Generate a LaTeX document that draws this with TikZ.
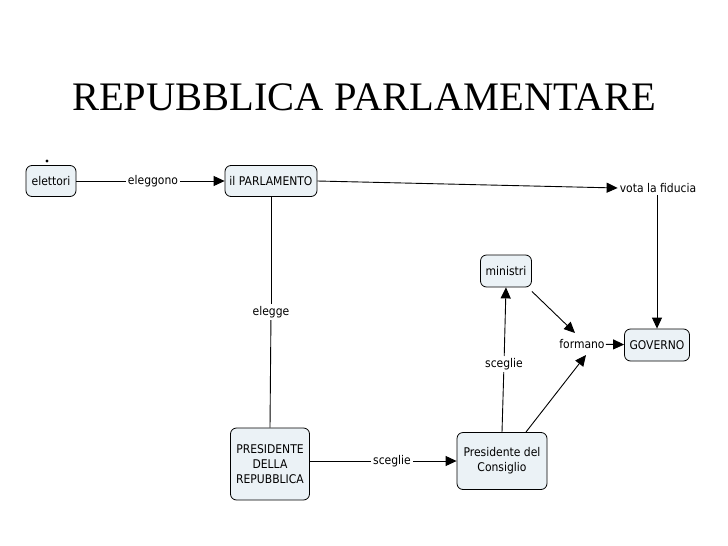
\documentclass[tikz,border=0pt]{standalone}
\usepackage{fontspec}
\setmainfont{Liberation Serif}
\newfontfamily\cm{DejaVu Sans Condensed}
\usetikzlibrary{arrows.meta}
\definecolor{boxfill}{HTML}{EBF2F6}
\begin{document}
\begin{tikzpicture}[x=1pt,y=-1pt,
  cbox/.style={draw=black,line width=0.8pt,fill=boxfill,rounded corners=6pt,font=\cm\fontsize{12}{15}\selectfont,align=center,inner sep=0pt},
  lbl/.style={font=\cm\fontsize{12}{14}\selectfont,fill=white,inner sep=2pt},
  conn/.style={line width=0.9pt},
  arr/.style={conn,-{Triangle[length=11pt,width=10pt]}}]
\useasboundingbox (0,0) rectangle (728,546);
\node[font=\fontsize{40.5}{42}\selectfont] (title) at (364,97) {REPUBBLICA PARLAMENTARE};
\fill (47,161) circle (1.6);
\node[cbox,minimum width=50pt,minimum height=31pt] (el) at (51,181) {elettori};
\node[lbl] (eg) at (153,181) {eleggono};
\node[cbox,minimum width=92pt,minimum height=31pt] (pa) at (271,181) {il PARLAMENTO};
\node[lbl] (vf) at (658,188) {vota la fiducia};
\node[cbox,minimum width=51pt,minimum height=32pt] (mi) at (506,271) {ministri};
\node[lbl,inner sep=1pt] (fo) at (582,344) {formano};
\node[cbox,minimum width=65pt,minimum height=32pt] (go) at (657,345) {GOVERNO};
\node[lbl] (ee) at (271,312) {elegge};
\node[cbox,minimum width=79pt,minimum height=72pt] (pr) at (270,464) {PRESIDENTE\\DELLA\\REPUBBLICA};
\node[lbl] (s1) at (392,461) {sceglie};
\node[cbox,minimum width=90pt,minimum height=57pt] (pc) at (502,461) {Presidente del\\Consiglio};
\node[lbl] (s2) at (504,364) {sceglie};
\draw[conn] (el) -- (eg);
\draw[arr] (eg) -- (pa);
\draw[arr] (pa.east) -- (vf.west);
\draw[arr] (vf.south -| go.north) -- (go.north);
\draw[conn] (pa.south) -- (ee);
\draw[conn] (ee) -- (pr.north);
\draw[conn] (pr.east |- s1) -- (s1);
\draw[arr] (s1) -- (pc.west |- s1);
\draw[conn] (pc.north) -- (s2);
\draw[arr] (s2) -- (mi.south);
\draw[arr] (mi.south east) ++(0,4) -- (575,333);
\draw[arr] (526,432) -- (586,355);
\draw[arr] (fo) -- (go);
\end{tikzpicture}
\end{document}
